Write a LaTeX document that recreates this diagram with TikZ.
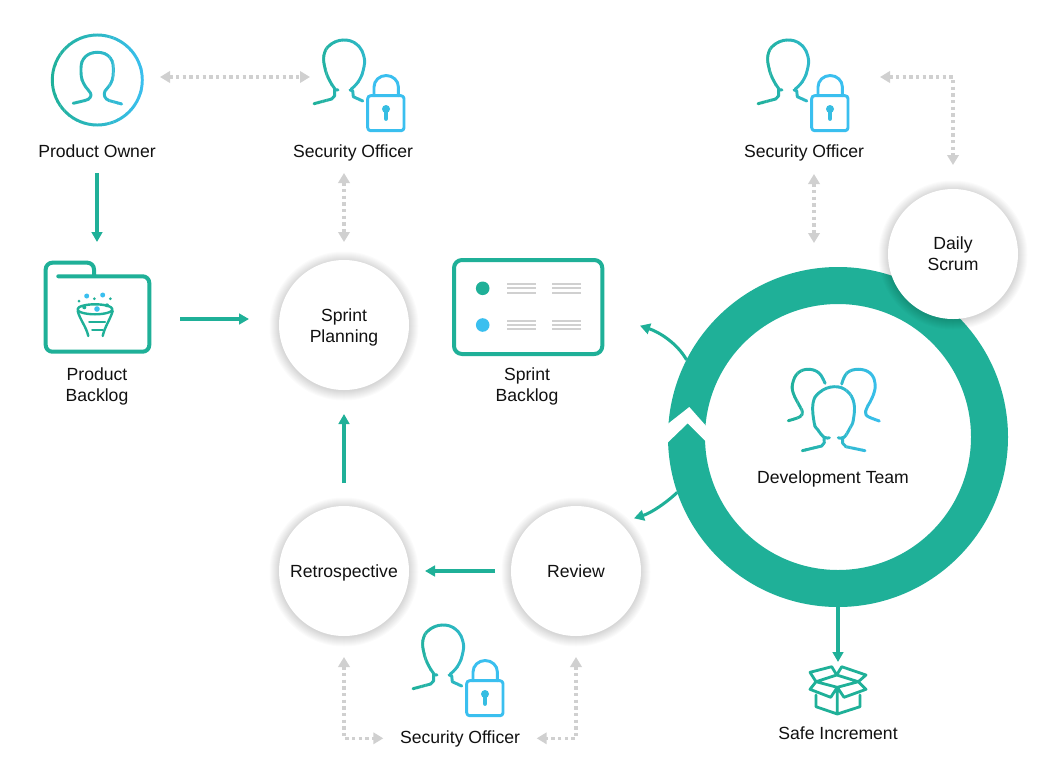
\documentclass[tikz,border=0pt]{standalone}
\usepackage{fontspec}
\setmainfont{Liberation Sans}
\usetikzlibrary{arrows.meta}
\definecolor{teal1}{HTML}{1FB098}
\definecolor{blue1}{HTML}{3ABFEF}
\definecolor{grey1}{HTML}{D0D0D0}
\definecolor{ink}{HTML}{111111}
\tikzset{
  flow/.style={draw=teal1,line width=2.28pt,-{Triangle[length=7.5pt,width=8pt]}},
  link/.style={draw=grey1,line width=2.28pt,dash pattern=on 2.4pt off 2.6pt,
    {Triangle[length=7.5pt,width=8.5pt]}-{Triangle[length=7.5pt,width=8.5pt]}},
  disc/.style={circle,fill=white,minimum size=97.5pt,inner sep=0pt,outer sep=0pt,align=center},
  lbl/.style={text=ink,align=center,inner sep=0pt,font=\fontsize{13.2}{15.75}\selectfont},
  one/.style={lbl,text height=9.4pt,text depth=0pt},
  iconline/.style={line width=2.2pt,line cap=round,line join=round},
  tealline/.style={draw=teal1,line width=3pt,line cap=round,line join=round},
  thinteal/.style={draw=teal1,line width=1.8pt,line cap=round,line join=round},
}
\newcommand{\gradstroke}[3]{%
  \foreach \i in {0,...,23}{%
    \pgfmathsetmacro{\pct}{100*\i/23}%
    \pgfmathsetmacro{\xa}{#1+(#2-#1)*\i/24}%
    \pgfmathsetmacro{\xb}{#1+(#2-#1)*(\i+1)/24+0.4}%
    \begin{scope}
      \clip (\xa,-100) rectangle (\xb,1000);
      \draw[iconline,draw=blue1!\pct!teal1] #3;
    \end{scope}}}
\newcommand{\softdisc}[2]{%
  \foreach \r in {65.5,66.5,...,75}{%
    \fill[black,opacity=0.015] (#1,#2+1) circle[radius=\r];}}
\newcommand{\secicon}[2]{%
  \begin{scope}[shift={(#1,#2)}]
    \gradstroke{310}{408}{
      plot[smooth,tension=.7] coordinates{(335,89) (329.3,80) (325,68.3) (324,55) (330,45) (343.3,40) (356.7,44.3) (364,56.7) (363.3,70) (358.3,81.7) (351,89.3)}
      (338,90) -- (334.5,89.5) -- (334.7,95.7) -- (331.7,99) -- (314,103.7)
      (350,90) -- (352.7,90.7) -- (353.3,96.7) -- (362.7,101)}
    \draw[iconline,draw=blue1,rounded corners=2.2] (367.7,95.7) rectangle (404,130.7);
    \draw[iconline,draw=blue1] (374,95.7) -- (374,87) arc[start angle=180,end angle=0,x radius=12.2,y radius=-11.5] -- (398.3,95.7);
    \fill[blue1!85!teal1] (386,109) circle[radius=4];
    \draw[blue1!85!teal1,line width=3.6pt,line cap=round] (386,109) -- (386,118.5);
  \end{scope}}
\begin{document}
\begin{tikzpicture}[x=0.75pt,y=-0.75pt]
\useasboundingbox (0,0) rectangle (1053,775);
\fill[white] (0,0) rectangle (1053,775);

% ring
\node[circle,draw=teal1,line width=27.75pt,minimum size=227.25pt,inner sep=0pt] (ring) at (838,437) {};
\fill[white] (660,430) -- (689.3,407) -- (715,436) -- (715,450.7) -- (687.7,423.3) -- (660,450) -- cycle;

% shadows and discs
\softdisc{344}{325}\softdisc{344}{571}\softdisc{576}{571}\softdisc{953}{254}
\node[disc] (plan) at (344,325) {};
\node[lbl] (planl) at (344,327) {Sprint\\Planning};
\node[disc,one] (retro) at (344,571) {Retrospective};
\node[disc,one] (review) at (576,571) {Review};
\node[disc] (daily) at (953,254) {};
\node[lbl] (dailyl) at (953,253.5) {Daily\\Scrum};

% product owner
\gradstroke{48}{146}{
  (97.3,80) circle[radius=45]
  (73.3,103.3) -- (85,100.5) .. controls (90,99.5) and (92,96) .. (90.5,93) .. controls (88,89) and (81,84) .. (81,72)
  -- (81,68) .. controls (81,58) and (88,52.3) .. (97.3,52.3) .. controls (107,52.3) and (113.3,58) .. (113.3,68)
  -- (113.3,72) .. controls (113.3,84) and (107,88) .. (105,91) .. controls (103,95) and (105,99) .. (109,100.5) -- (121.7,104)}
\node[one] (pol) at (97,151) {Product Owner};

% security officers
\secicon{0}{0}
\node[one] (sec1) at (353,151) {Security Officer};
\secicon{444}{0}
\node[one] (sec2) at (804,151) {Security Officer};
\secicon{99}{585}
\node[one] (sec3) at (460,737) {Security Officer};

% product backlog icon
\draw[tealline,rounded corners=5] (58.3,276.3) -- (149.3,276.3) -- (149.3,351.7) -- (45.7,351.7) -- (45.7,262.7) -- (94,262.7) -- (94,276.3);
\draw[thinteal] (95,309.3) ellipse[x radius=17.5,y radius=5];
\draw[thinteal] (77.7,311) .. controls (80,320) and (86,326) .. (88.3,336);
\draw[thinteal] (112.7,311) .. controls (110,320) and (105,326) .. (102.7,336);
\draw[thinteal] (89.3,321.7) -- (105,321.7) (92.3,330) -- (102.7,330);
\fill[blue1] (86.7,296) circle[radius=2.5] (102.7,295) circle[radius=2.5] (97,309) circle[radius=2.8];
\fill[teal1] (79,301) circle[radius=1.5] (94.3,298.7) circle[radius=1.5] (110.3,298.7) circle[radius=1.5] (84.3,307.3) circle[radius=2] (107,305.3) circle[radius=2];
\node[lbl] (pbl) at (97,386.5) {Product\\Backlog};

% sprint backlog icon
\draw[tealline,rounded corners=6] (454,260) rectangle (602.3,354);
\fill[teal1] (482.7,288.3) circle[radius=6.8];
\fill[blue1] (482.7,325) circle[radius=6.8];
\draw[grey1,line width=1.6pt]
  (507.3,284) -- (536,284) (507.3,288.3) -- (536,288.3) (507.3,292.7) -- (536,292.7)
  (552,284) -- (580.7,284) (552,288.3) -- (580.7,288.3) (552,292.7) -- (580.7,292.7)
  (507.3,320.7) -- (536,320.7) (507.3,325) -- (536,325) (507.3,329.3) -- (536,329.3)
  (552,320.7) -- (580.7,320.7) (552,325) -- (580.7,325) (552,329.3) -- (580.7,329.3);
\node[lbl] (sbl) at (527,386.5) {Sprint\\Backlog};

% development team
\gradstroke{785}{883}{
  plot[smooth,tension=.7] coordinates{(829.3,437.7) (824,437.3) (818,430) (814.3,423.3) (813,403.3) (820,392) (834,386.7) (847,391) (854,403.3) (853.3,420) (850,428) (844,437.3) (838.3,437.7)}
  (824,437.3) -- (824.3,442.7) -- (821.7,446) -- (802.3,450.7)
  (842.7,438.3) -- (842.7,443.3) -- (846,446.7) -- (865,450.7)
  plot[smooth,tension=.7] coordinates{(788.3,420.7) (800,416.7) (802.3,411.7) (800,406.7) (793.3,393.3) (792.7,383.3) (798,373) (808.3,369.3) (819,373) (825,383.3)}
  plot[smooth,tension=.7] coordinates{(841.7,384) (847,373) (858.3,369.3) (870,373) (875,383.3) (873.3,395) (866.7,408.3) (865.7,413.3) (868.3,416.7) (879.3,421)}}
\node[one] (team) at (833,477) {Development Team};

% safe increment box
\draw[thinteal,line width=2.1pt]
  (816,695) -- (816,706.7) -- (837.3,714) -- (860,706.7) -- (860,695)
  (837.3,687.3) -- (837.3,714)
  (816,681.7) -- (836.7,675) -- (858.3,681.7) -- (837.3,687.3) -- cycle
  (837.3,687.3) -- (830.7,697.3) -- (810,689.3) -- (816,681.7)
  (837.3,687.3) -- (844,697.3) -- (866,689.3) -- (858.3,681.7)
  (816,681.7) -- (810,672.3) -- (831.7,666.7) -- (836.7,675)
  (836.7,675) -- (841.7,666.7) -- (866,675) -- (858.3,681.7);
\node[one] (safe) at (838,733) {Safe Increment};

% free connector ends
\coordinate (poE) at (160,77);
\coordinate (secW) at (310,77);
\coordinate (sec2E) at (880,77);
\coordinate (dailyC) at (953,77);
\coordinate (sec3W) at (383.3,738.3);
\coordinate (sec3E) at (536.7,738.3);
\coordinate (cornerL) at (344,738.3);
\coordinate (cornerR) at (576,738.3);
\coordinate (ringUp) at (814,243);
\coordinate (sec2S) at (814,174);
\coordinate (sec1S) at (344,173);
\coordinate (pbE) at (180,319);
\coordinate (planW) at (249,319);
\coordinate (pbTop) at (97,242);
\coordinate (poS) at (97,173);
\coordinate (safeTop) at (838,662);
\coordinate (sblE) at (640,325.7);
\coordinate (revNE) at (634,518.3);

% grey links
\draw[link] (poE) -- (secW);
\draw[link,shorten >=13.5pt] (sec1S) -- (plan.north);
\draw[link] (sec2S) -- (ringUp);
\draw[link,shorten >=18pt] (sec2E) -- (dailyC) -- (daily.north);
\draw[link,shorten <=15.75pt] (retro.south) -- (cornerL) -- (sec3W);
\draw[link,shorten <=15.75pt] (review.south) -- (cornerR) -- (sec3E);

% teal flows
\draw[flow] (poS) -- (pbTop);
\draw[flow] (pbE) -- (planW);
\draw[flow,shorten <=17.25pt,shorten >=18pt] (retro.north) -- (plan.south);
\draw[flow,shorten <=12pt,shorten >=12pt] (review.west) -- (retro.east);
\draw[flow] (ring.153) .. controls (677,343) and (659,332) .. (sblE);
\draw[flow] (ring.199) .. controls (666,503) and (651,513) .. (revNE);
\draw[flow] (ring.south) -- (safeTop);
\end{tikzpicture}
\end{document}
